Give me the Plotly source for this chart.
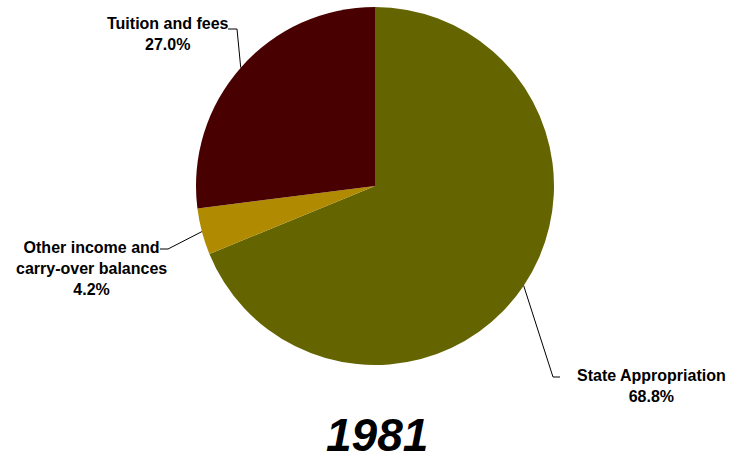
import math
import plotly.graph_objects as go

labels = ["State Appropriation", "Other income and<br>carry-over balances", "Tuition and fees"]
values = [68.8, 4.2, 27.0]
colors = ["#646400", "#b08a00", "#480000"]
year = "1981"

W, H = 733, 462
cx, cy, r = 375, 186, 179  # pie centre/radius in pixels

dom_x = [(cx - r) / W, (cx + r) / W]
dom_y = [1 - (cy + r) / H, 1 - (cy - r) / H]

fig = go.Figure(go.Pie(
    labels=labels, values=values, sort=False, direction="clockwise", rotation=0,
    marker=dict(colors=colors, line=dict(width=0)),
    textinfo="none", hoverinfo="label+percent", showlegend=False,
    domain=dict(x=dom_x, y=dom_y),
))

# label anchor positions (pixels): text centre, elbow, elbow end
label_pos = [
    dict(tx=651, ty=386, elbow=(553, 377), end=(560, 377)),
    dict(tx=91, ty=268, elbow=(168, 249), end=(160, 249)),
    dict(tx=168, ty=34, elbow=(237, 29), end=(228, 29)),
]

total = sum(values)
cum = 0
shapes, annotations = [], []
for lab, v, lp in zip(labels, values, label_pos):
    mid = (cum + v / 2) / total * 2 * math.pi
    cum += v
    ex = cx + r * math.sin(mid)
    ey = cy - r * math.cos(mid)
    pts = [(ex, ey), lp["elbow"], lp["end"]]
    path = "M " + " L ".join(f"{px / W},{1 - py / H}" for px, py in pts)
    shapes.append(dict(type="path", path=path, xref="paper", yref="paper",
                       line=dict(color="black", width=1)))
    annotations.append(dict(
        text=f"{lab}<br>{v:.1f}%", x=lp["tx"] / W, y=1 - lp["ty"] / H,
        xref="paper", yref="paper", showarrow=False, align="center",
        xanchor="center", yanchor="middle",
        font=dict(family="Liberation Sans, Arial, sans-serif", size=16, color="black", weight="bold"),
    ))

annotations.append(dict(
    text=f"<b><i>{year}</i></b>", x=377 / W, y=0, xref="paper", yref="paper",
    showarrow=False, xanchor="center", yanchor="bottom", borderpad=0,
    font=dict(family="Liberation Sans, Arial, sans-serif", size=46, color="black"),
))

fig.update_layout(
    width=W, height=H, margin=dict(l=0, r=0, t=0, b=0),
    paper_bgcolor="white", plot_bgcolor="white",
    shapes=shapes, annotations=annotations,
)
fig.write_html("out.html", config={"displayModeBar": False},
               post_script="document.body.style.margin='0';document.body.style.overflow='hidden';")
